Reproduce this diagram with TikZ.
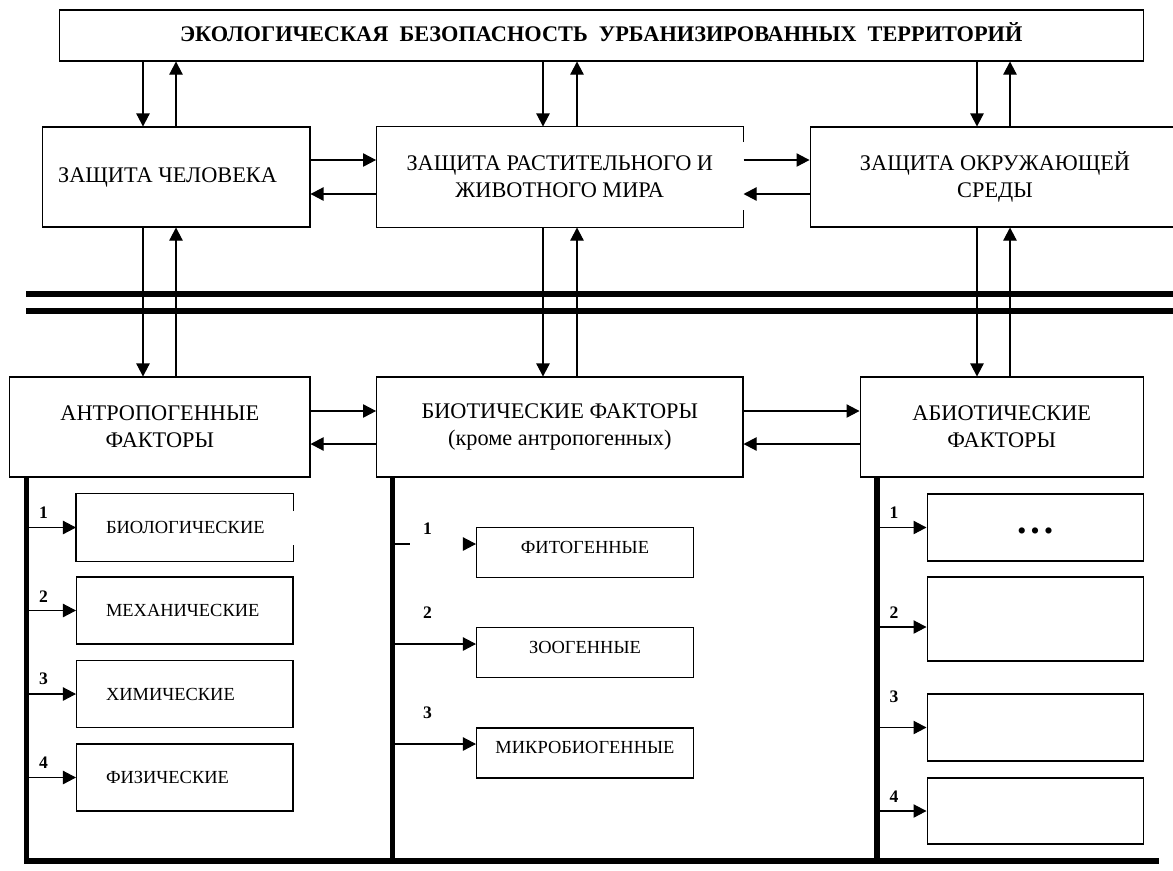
\documentclass[tikz,border=0pt]{standalone}
\usepackage{fontspec}
\setmainfont{Liberation Serif}
\usetikzlibrary{arrows.meta}

\begin{document}
\begin{tikzpicture}[x=0.02cm, y=-0.02cm, line width=0.6pt,
  box/.style={rectangle, draw, inner sep=0pt, minimum height=2cm, align=center, font=\fontsize{12.7}{15.5}\selectfont},
  lsub/.style={rectangle, draw, inner ysep=0pt, inner xsep=0.59cm, minimum height=1.34cm, text width=3.15cm, align=left, font=\fontsize{10.5}{12}\selectfont},
  msub/.style={rectangle, draw, inner sep=0pt, minimum width=4.34cm, minimum height=1cm, text height=.7em, text depth=6pt, font=\fontsize{10.5}{12}\selectfont},
  rsub/.style={rectangle, draw, inner sep=0pt, minimum width=4.33cm, minimum height=1.34cm, font=\fontsize{13}{14}\selectfont},
  num/.style={inner sep=0pt, font=\bfseries\fontsize{10}{12}\selectfont},
  arr/.style={-{Triangle[length=7.4pt,width=7.6pt]}},
  bus/.style={line width=2.9pt, line join=miter}]
  \useasboundingbox (0,0) rectangle (1173,870);

  \node[box, minimum width=21.69cm, minimum height=1.02cm, text depth=4pt, font=\bfseries\fontsize{12.7}{14}\selectfont] (eko) at (601.25,35.5) {ЭКОЛОГИЧЕСКАЯ\ \ БЕЗОПАСНОСТЬ\ \ УРБАНИЗИРОВАННЫХ\ \ ТЕРРИТОРИЙ};

  \node[box, minimum width=5.35cm] (zch) at (176.25,177) {ЗАЩИТА ЧЕЛОВЕКА\hspace{0.35cm}};
  \node[box, draw=none, minimum width=7.33cm] (zrm) at (559.8,177) {ЗАЩИТА РАСТИТЕЛЬНОГО И\\ЖИВОТНОГО МИРА};
  \draw (zrm.east |- 0,142) |- (zrm.north west) |- (zrm.south east) -- (zrm.east |- 0,210);
  \node[box, minimum width=7.4cm] (zos) at (995,177) {ЗАЩИТА ОКРУЖАЮЩЕЙ\\СРЕДЫ};

  \node[box, minimum width=6.01cm] (antr) at (159.8,427) {АНТРОПОГЕННЫЕ\\ФАКТОРЫ};
  \node[box, minimum width=7.33cm] (biot) at (559.8,427) {БИОТИЧЕСКИЕ ФАКТОРЫ\\(кроме антропогенных)};
  \node[box, minimum width=5.67cm] (abiot) at (1001.75,427) {АБИОТИЧЕСКИЕ\\ФАКТОРЫ};

  \draw[arr] (eko.south -| 143,0) -- (zch.north -| 143,0);
  \draw[arr] (zch.north -| 176,0) -- (eko.south -| 176,0);
  \draw[arr] (eko.south -| 543,0) -- (zrm.north -| 543,0);
  \draw[arr] (zrm.north -| 577,0) -- (eko.south -| 577,0);
  \draw[arr] (eko.south -| 977,0) -- (zos.north -| 977,0);
  \draw[arr] (zos.north -| 1010,0) -- (eko.south -| 1010,0);

  \draw[arr] (zch.east |- 0,160) -- (zrm.west |- 0,160);
  \draw[arr] (zrm.west |- 0,194) -- (zch.east |- 0,194);
  \draw[arr] (zrm.east |- 0,160) -- (zos.west |- 0,160);
  \draw[arr] (zos.west |- 0,194) -- (zrm.east |- 0,194);

  \draw[line width=3.2pt] (26,294) -- (1180,294);
  \draw[line width=3.2pt] (26,311) -- (1180,311);

  \draw[arr] (zch.south -| 143,0) -- (antr.north -| 143,0);
  \draw[arr] (antr.north -| 176,0) -- (zch.south -| 176,0);
  \draw[arr] (zrm.south -| 543,0) -- (biot.north -| 543,0);
  \draw[arr] (biot.north -| 577,0) -- (zrm.south -| 577,0);
  \draw[arr] (zos.south -| 977,0) -- (abiot.north -| 977,0);
  \draw[arr] (abiot.north -| 1010,0) -- (zos.south -| 1010,0);

  \draw[arr] (antr.east |- 0,411) -- (biot.west |- 0,411);
  \draw[arr] (biot.west |- 0,444) -- (antr.east |- 0,444);
  \draw[arr] (biot.east |- 0,411) -- (abiot.west |- 0,411);
  \draw[arr] (abiot.west |- 0,444) -- (biot.east |- 0,444);

  \coordinate (busl) at (26.5,861);
  \coordinate (busm) at (392.7,861);
  \coordinate (busr) at (877,861);
  \draw[bus] (antr.south -| busl) -- (busl) -- (1159,861);
  \draw[bus] (biot.south -| busm) -- (busm);
  \draw[bus] (abiot.south -| busr) -- (busr);

  \node[lsub, draw=none] (biol) at (184.75,527.5) {БИОЛОГИЧЕСКИЕ};
  \draw (biol.east |- 0,511) |- (biol.north west) |- (biol.south east) -- (biol.east |- 0,545);
  \node[lsub] (meh) at (184.75,610.5) {МЕХАНИЧЕСКИЕ};
  \node[lsub] (him) at (184.75,694) {ХИМИЧЕСКИЕ};
  \node[lsub] (fiz) at (184.75,777.5) {ФИЗИЧЕСКИЕ};
  \draw[arr] (biol.west -| busl) -- (biol.west);
  \draw[arr] (meh.west -| busl) -- (meh.west);
  \draw[arr] (him.west -| busl) -- (him.west);
  \draw[arr] (fiz.west -| busl) -- (fiz.west);
  \node[num] (l1) at (43.6,513) {1};
  \node[num] (l2) at (43.6,597) {2};
  \node[num] (l3) at (43.6,679) {3};
  \node[num] (l4) at (43.6,763) {4};

  \node[msub] (fito) at (585,552.5) {ФИТОГЕННЫЕ};
  \node[msub] (zoo) at (585,652.5) {ЗООГЕННЫЕ};
  \node[msub] (mikro) at (585,753) {МИКРОБИОГЕННЫЕ};
  \draw[arr, dash pattern=on 0.34cm off 1.2cm] (busm |- 0,544) -- (fito.west |- 0,544);
  \draw[arr] (busm |- 0,644) -- (zoo.west |- 0,644);
  \draw[arr] (busm |- 0,744) -- (mikro.west |- 0,744);
  \node[num] (m1) at (427.5,529) {1};
  \node[num] (m2) at (427.5,613) {2};
  \node[num] (m3) at (427.5,713) {3};

  \node[rsub] (ab1) at (1035.25,527.5) {\raisebox{-6.5pt}[0pt][0pt]{\textbf{•\hspace{3pt}•\hspace{3pt}•}}};
  \node[rsub, minimum height=1.68cm] (ab2) at (1035.25,619) {};
  \node[rsub] (ab3) at (1035.25,727.5) {};
  \node[rsub, minimum height=1.32cm] (ab4) at (1035.25,811) {};
  \draw[arr] (ab1.west -| busr) -- (ab1.west);
  \draw[arr] (busr |- 0,627) -- (ab2.west |- 0,627);
  \draw[arr] (ab3.west -| busr) -- (ab3.west);
  \draw[arr] (ab4.west -| busr) -- (ab4.west);
  \node[num] (r1) at (894,513) {1};
  \node[num] (r2) at (894,613) {2};
  \node[num] (r3) at (894,697) {3};
  \node[num] (r4) at (894,797) {4};
\end{tikzpicture}
\end{document}
